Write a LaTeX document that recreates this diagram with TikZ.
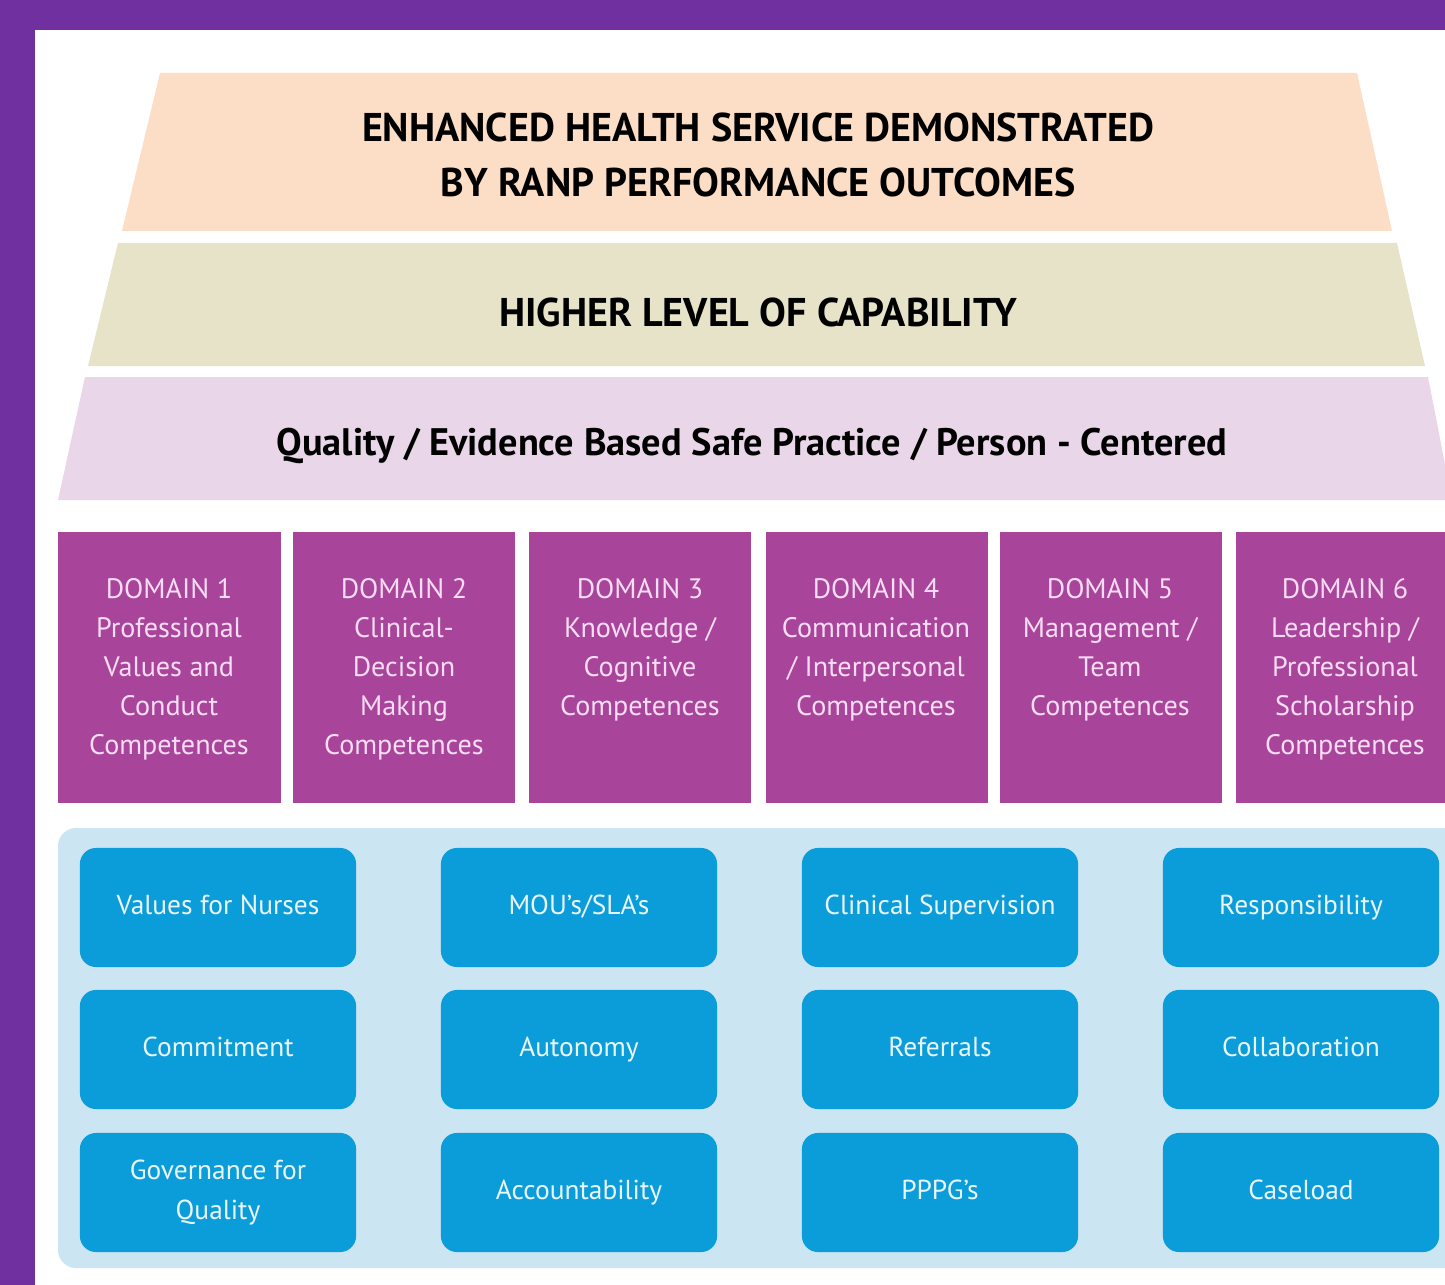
\documentclass[tikz,border=0pt]{standalone}
\usepackage{fontspec}
\setmainfont{PT Sans}
\usetikzlibrary{positioning}

\definecolor{frame}{HTML}{7030A0}
\definecolor{tierone}{HTML}{FCDDC5}
\definecolor{tiertwo}{HTML}{E6E3C9}
\definecolor{tierthree}{HTML}{E9D6E8}
\definecolor{domainfill}{HTML}{A8459A}
\definecolor{domaintext}{HTML}{F9DDF4}
\definecolor{panel}{HTML}{CCE5F3}
\definecolor{button}{HTML}{0B9DD9}
\definecolor{buttontext}{HTML}{EAF5FC}

\begin{document}
\begin{tikzpicture}[x=0.01cm, y=-0.01cm,
	tiertitle/.style={font=\bfseries\fontsize{11.4}{15.6}\selectfont, text=black, align=center},
	domainbox/.style={fill=domainfill, minimum width=2.22cm, minimum height=2.71cm, inner sep=0pt},
	domainlabel/.style={anchor=north, text=domaintext, align=center, font=\fontsize{8}{11.1}\selectfont},
	item/.style={fill=button, rounded corners=0.16cm, minimum width=2.76cm, minimum height=1.19cm,
		text=buttontext, align=center, font=\fontsize{7.8}{11.6}\selectfont, inner sep=0pt},
	oneline/.style={text height=0.75em, text depth=0.37em}]

	%Frame
	\useasboundingbox (0,0) rectangle (1445,1285);
	\fill[frame] (0,0) rectangle (1445,1285);
	\fill[white] (35,30) rectangle (1445,1285);
	\clip (35,30) rectangle (1445,1285);

	%Top tier
	\fill[tierone] (160,73) -- (1357,73) -- (1392,231) -- (122,231) -- cycle;
	\node (outcomes) at(758,155) [tiertitle]{ENHANCED HEALTH SERVICE DEMONSTRATED\\BY RANP PERFORMANCE OUTCOMES};

	%Middle tier
	\fill[tiertwo] (118,243) -- (1397,243) -- (1425,366) -- (88,366) -- cycle;
	\node (capability) at(758,312) [tiertitle]{HIGHER LEVEL OF CAPABILITY};

	%Lower tier
	\fill[tierthree] (85,377) -- (1428,377) -- (1452,500) -- (58,500) -- cycle;
	\node (practice) at(752,446) [tiertitle, font=\bfseries\fontsize{10.9}{13}\selectfont]{Quality / Evidence Based Safe Practice / Person - Centered};

	%Domains
	\node (domainA) at(169.5,667.5) [domainbox]{};
	\node (domainB) at(404,667.5) [domainbox]{};
	\node (domainC) at(640,667.5) [domainbox]{};
	\node (domainD) at(877,667.5) [domainbox]{};
	\node (domainE) at(1111,667.5) [domainbox]{};
	\node (domainF) at(1347,667.5) [domainbox]{};
	\node[domainlabel] at(169,566) {DOMAIN 1\\Professional\\Values and\\Conduct\\Competences};
	\node[domainlabel] at(404,566) {DOMAIN 2\\Clinical-\\Decision\\Making\\Competences};
	\node[domainlabel] at(640,566) {DOMAIN 3\\Knowledge /\\Cognitive\\Competences};
	\node[domainlabel] at(876,566) {DOMAIN 4\\Communication\\/ Interpersonal\\Competences};
	\node[domainlabel] at(1110,566) {DOMAIN 5\\Management /\\Team\\Competences};
	\node[domainlabel] at(1345,566) {DOMAIN 6\\Leadership /\\Professional\\Scholarship\\Competences};

	%Enablers panel
	\fill[panel, rounded corners=0.18cm] (58,828) rectangle (1470,1268);

	%First column
	\node (values) at(218,907.5) [item, oneline]{Values for Nurses};
	\node (commitment) at(218,1049.5) [item, oneline]{Commitment};
	\node (governance) at(218,1192.5) [item]{Governance for\\Quality};

	%Second column
	\node (mou) at(579,907.5) [item, oneline]{MOU's/SLA's};
	\node (autonomy) at(579,1049.5) [item, oneline]{Autonomy};
	\node (accountability) at(579,1192.5) [item, oneline]{Accountability};

	%Third column
	\node (supervision) at(940,907.5) [item, oneline]{Clinical Supervision};
	\node (referrals) at(940,1049.5) [item, oneline]{Referrals};
	\node (pppg) at(940,1192.5) [item, oneline]{PPPG's};

	%Fourth column
	\node (responsibility) at(1301,907.5) [item, oneline]{Responsibility};
	\node (collaboration) at(1301,1049.5) [item, oneline]{Collaboration};
	\node (caseload) at(1301,1192.5) [item, oneline]{Caseload};

\end{tikzpicture}
\end{document}
